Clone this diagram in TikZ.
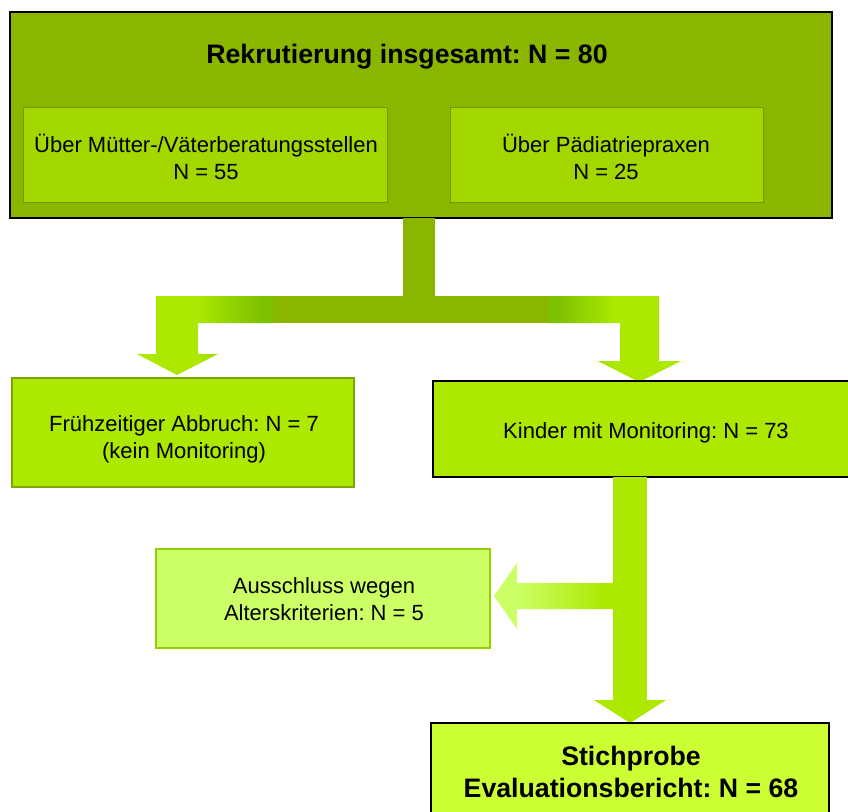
\documentclass[tikz,border=0pt]{standalone}
\usepackage{fontspec}
\setmainfont{Liberation Sans}
\frenchspacing
\definecolor{olivegreen}{HTML}{8AB600}
\definecolor{innergreen}{HTML}{A2D800}
\definecolor{innerborder}{HTML}{6E9A00}
\definecolor{brightgreen}{HTML}{ACE800}
\definecolor{midgreen}{HTML}{7CC000}
\definecolor{palegreen}{HTML}{CCFF66}
\definecolor{paleborder}{HTML}{99CC00}
\definecolor{finalgreen}{HTML}{CCFF33}
\definecolor{leftborder}{HTML}{7FA600}
\pgfdeclarehorizontalshading{leftarm}{100bp}{color(0bp)=(brightgreen); color(25bp)=(brightgreen); color(47bp)=(brightgreen); color(71bp)=(midgreen); color(100bp)=(midgreen)}
\pgfdeclarehorizontalshading{rightarm}{100bp}{color(0bp)=(midgreen); color(28bp)=(midgreen); color(50bp)=(brightgreen); color(100bp)=(brightgreen)}
\pgfdeclarehorizontalshading{exclarm}{100bp}{color(0bp)=(palegreen); color(35bp)=(palegreen); color(72bp)=(brightgreen); color(100bp)=(brightgreen)}
\begin{document}
\begin{tikzpicture}[x=1pt,y=-1pt,
  every node/.style={inner sep=0pt,outer sep=0pt},
  normaltext/.style={font=\fontsize{22}{27}\selectfont,align=center},
  boldtext/.style={font=\fontsize{26.7}{32}\selectfont\bfseries,align=center},
  topbox/.style={draw=black,line width=1.5pt,fill=olivegreen},
  innerbox/.style={draw=innerborder,line width=1pt,fill=innergreen},
  dropbox/.style={draw=leftborder,line width=1.5pt,fill=brightgreen},
  mainbox/.style={draw=black,line width=1.5pt,fill=brightgreen},
  exclbox/.style={draw=paleborder,line width=1.5pt,fill=palegreen},
  finalbox/.style={draw=black,line width=2.5pt,fill=finalgreen}]
\useasboundingbox (0,0) rectangle (848,811);
\clip (0,0) rectangle (848,811);

% junction coordinates
\coordinate (jl) at (273,296);
\coordinate (jr) at (548,323);

% boxes
\node[topbox,minimum width=822pt,minimum height=206pt] (top) at (421,115) {};
\node[boldtext] (title) at (407,57) {Rekrutierung insgesamt: N = 80};
\node[innerbox,minimum width=364pt,minimum height=95pt] (mv) at (205.5,154.5) {};
\node[normaltext] (mvt) at (206,156.5) {Über Mütter-/Väterberatungsstellen\\N = 55};
\node[innerbox,minimum width=313pt,minimum height=95pt] (pp) at (606.5,154.5) {};
\node[normaltext] (ppt) at (606,156.5) {Über Pädiatriepraxen\\N = 25};

% connector from top box
\fill[olivegreen] (403,0 |- top.south) rectangle (435,0 |- jl);
\fill[olivegreen] (jl) rectangle (jr);
\shade[shading=leftarm] (jl) -- (156,296) -- (156,354) -- (137,354) -- (177,375)
  -- (218,354) -- (198,354) -- (198,323) -- (jl |- jr) -- cycle;
\shade[shading=rightarm] (jr |- jl) -- (659,296) -- (659,361) -- (681,361) -- (639,382)
  -- (598,361) -- (620,361) -- (620,323) -- (jr) -- cycle;

\node[dropbox,minimum width=342pt,minimum height=109pt] (drop) at (183,432.5) {};
\node[normaltext] (dropt) at (184,439.5) {Frühzeitiger Abbruch: N = 7\\(kein Monitoring)};
\node[mainbox,minimum width=417pt,minimum height=96pt] (mon) at (641.5,429) {};
\node[normaltext] (mont) at (646,433) {Kinder mit Monitoring: N = 73};

% connector below monitoring box
\coordinate (tip) at (630,723);
\fill[brightgreen] (613,0 |- mon.south) rectangle (647,700);
\fill[brightgreen] (594,700) -- (666,700) -- (tip) -- cycle;
\shade[shading=exclarm] (613,583) -- (517,583) -- (517,563) -- (494,596) -- (517,629)
  -- (517,609) -- (613,609) -- cycle;

\node[exclbox,minimum width=334pt,minimum height=99pt] (excl) at (323,598.5) {};
\node[normaltext] (exclt) at (324,599.5) {Ausschluss wegen\\Alterskriterien: N = 5};

\node[finalbox,minimum width=398pt,minimum height=107pt,anchor=north] (final) at (tip) {};
\node[boldtext] (finalt) at (631,772) {Stichprobe\\Evaluationsbericht: N = 68};
\end{tikzpicture}
\end{document}
